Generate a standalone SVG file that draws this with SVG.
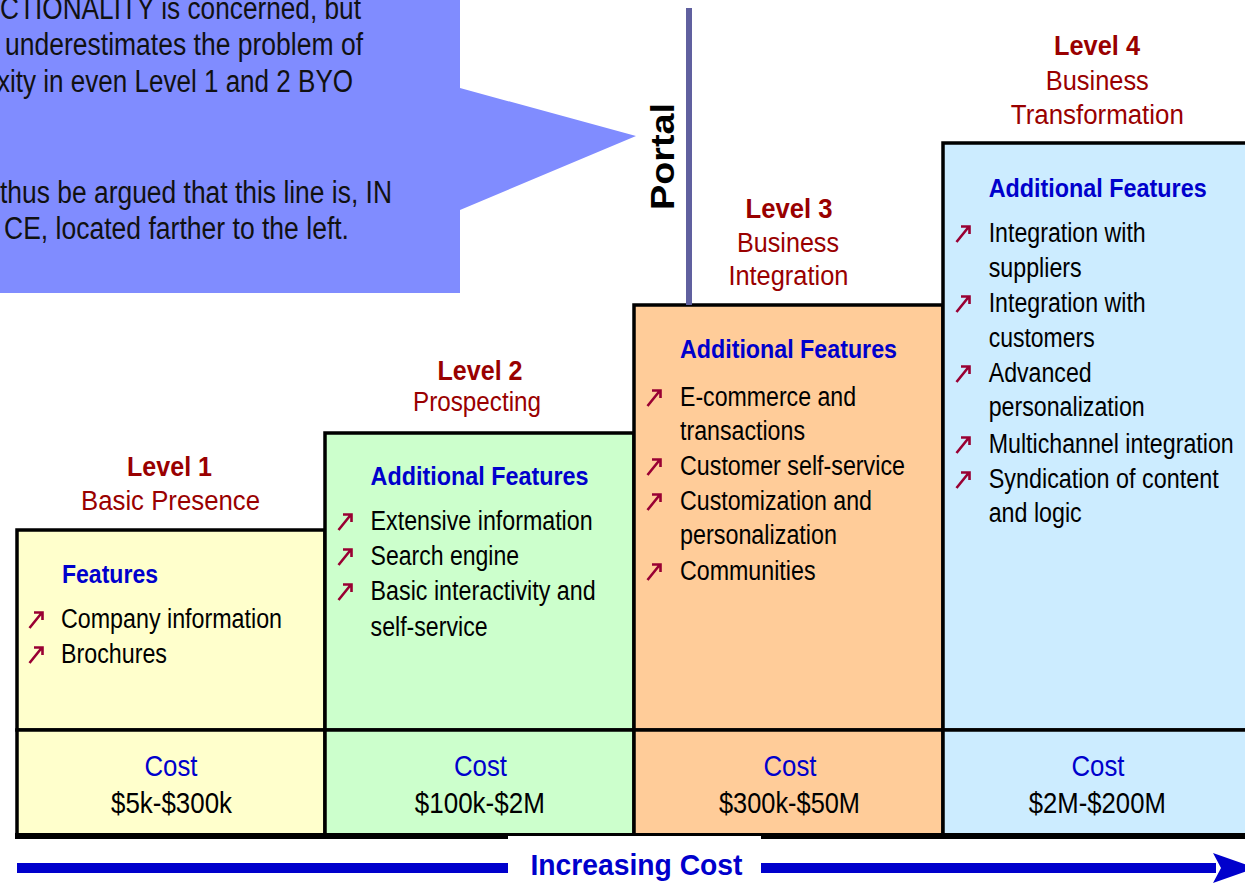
<svg xmlns="http://www.w3.org/2000/svg" xmlns:xlink="http://www.w3.org/1999/xlink" width="1245" height="884" viewBox="0 0 1245 884">
<style>
text{font-family:"Liberation Sans",Arial,sans-serif}
.call{font-size:31px;fill:#111}
.lvl{font-size:28px;font-weight:bold;fill:#990000;text-anchor:middle}
.sub{font-size:27px;fill:#990000;text-anchor:middle}
.hd{font-size:26px;font-weight:bold;fill:#0000cc}
.it{font-size:27px;fill:#000}
.cost{font-size:30px;fill:#0000cc;text-anchor:middle}
.val{font-size:30px;fill:#000;text-anchor:middle}
.box{stroke:#000;stroke-width:3.5}
.y{fill:#ffffcc}.g{fill:#ccffcc}.o{fill:#ffcc99}.b{fill:#ccecff}
</style>
<defs>
<path id="bul" d="M0.5,0 L13,-15.5 M5,-15.5 H13.5 V-8" fill="none" stroke="#990033" stroke-width="2.6"/>
</defs>
<rect width="1245" height="884" fill="#fff"/>

<g id="callout">
<polygon points="0,0 460,0 460,88 636,136 460,210 460,293 0,293" fill="#808cff"/>
<text class="call" x="0" y="19" textLength="361" lengthAdjust="spacingAndGlyphs">CTIONALITY is concerned, but</text>
<text class="call" x="5" y="55" textLength="358" lengthAdjust="spacingAndGlyphs">underestimates the problem of</text>
<text class="call" x="-3" y="92" textLength="356" lengthAdjust="spacingAndGlyphs">xity in even Level 1 and 2 BYO</text>
<text class="call" x="0" y="203" textLength="392" lengthAdjust="spacingAndGlyphs">thus be argued that this line is, IN</text>
<text class="call" x="4" y="239" textLength="345" lengthAdjust="spacingAndGlyphs">CE, located farther to the left.</text>
</g>

<g id="level1">
<text class="lvl" x="169.5" y="476" textLength="85" lengthAdjust="spacingAndGlyphs">Level 1</text>
<text class="sub" x="170.5" y="510" textLength="179" lengthAdjust="spacingAndGlyphs">Basic Presence</text>
<rect class="box y" x="17" y="530" width="308" height="200"/>
<rect class="box y" x="17" y="730" width="308" height="106"/>
<text class="hd" x="62" y="583" textLength="96" lengthAdjust="spacingAndGlyphs">Features</text>
<use xlink:href="#bul" x="29" y="628"/>
<text class="it" x="61" y="628" textLength="221" lengthAdjust="spacingAndGlyphs">Company information</text>
<use xlink:href="#bul" x="29" y="663"/>
<text class="it" x="61" y="663" textLength="106" lengthAdjust="spacingAndGlyphs">Brochures</text>
<text class="cost" x="171" y="776" textLength="53" lengthAdjust="spacingAndGlyphs">Cost</text>
<text class="val" x="171.5" y="813" textLength="121" lengthAdjust="spacingAndGlyphs">$5k-$300k</text>
</g>

<g id="level2">
<text class="lvl" x="480" y="379.5" textLength="85" lengthAdjust="spacingAndGlyphs">Level 2</text>
<text class="sub" x="477" y="411" textLength="128" lengthAdjust="spacingAndGlyphs">Prospecting</text>
<rect class="box g" x="325" y="433" width="309" height="297"/>
<rect class="box g" x="325" y="730" width="309" height="106"/>
<text class="hd" x="370.6" y="485" textLength="218" lengthAdjust="spacingAndGlyphs">Additional Features</text>
<use xlink:href="#bul" x="338" y="530"/>
<text class="it" x="370.6" y="530" textLength="222" lengthAdjust="spacingAndGlyphs">Extensive information</text>
<use xlink:href="#bul" x="338" y="565"/>
<text class="it" x="370.6" y="565" textLength="148.5" lengthAdjust="spacingAndGlyphs">Search engine</text>
<use xlink:href="#bul" x="338" y="600"/>
<text class="it" x="370.6" y="600" textLength="225" lengthAdjust="spacingAndGlyphs">Basic interactivity and</text>
<text class="it" x="370.6" y="636" textLength="117" lengthAdjust="spacingAndGlyphs">self-service</text>
<text class="cost" x="480.5" y="776" textLength="53" lengthAdjust="spacingAndGlyphs">Cost</text>
<text class="val" x="479.8" y="813" textLength="130" lengthAdjust="spacingAndGlyphs">$100k-$2M</text>
</g>

<g id="level3">
<text class="lvl" x="789" y="218" textLength="87" lengthAdjust="spacingAndGlyphs">Level 3</text>
<text class="sub" x="788" y="252" textLength="102" lengthAdjust="spacingAndGlyphs">Business</text>
<text class="sub" x="788.4" y="285" textLength="120" lengthAdjust="spacingAndGlyphs">Integration</text>
<rect class="box o" x="634" y="305" width="309" height="425"/>
<rect class="box o" x="634" y="730" width="309" height="106"/>
<text class="hd" x="680" y="358" textLength="217" lengthAdjust="spacingAndGlyphs">Additional Features</text>
<use xlink:href="#bul" x="647" y="406"/>
<text class="it" x="680" y="406" textLength="176" lengthAdjust="spacingAndGlyphs">E-commerce and</text>
<text class="it" x="680" y="440" textLength="125" lengthAdjust="spacingAndGlyphs">transactions</text>
<use xlink:href="#bul" x="647" y="475"/>
<text class="it" x="680" y="475" textLength="225" lengthAdjust="spacingAndGlyphs">Customer self-service</text>
<use xlink:href="#bul" x="647" y="510"/>
<text class="it" x="680" y="510" textLength="192" lengthAdjust="spacingAndGlyphs">Customization and</text>
<text class="it" x="680" y="544" textLength="157" lengthAdjust="spacingAndGlyphs">personalization</text>
<use xlink:href="#bul" x="647" y="580"/>
<text class="it" x="680" y="580" textLength="135.5" lengthAdjust="spacingAndGlyphs">Communities</text>
<text class="cost" x="790" y="776" textLength="53" lengthAdjust="spacingAndGlyphs">Cost</text>
<text class="val" x="789.5" y="813" textLength="141" lengthAdjust="spacingAndGlyphs">$300k-$50M</text>
</g>

<g id="level4">
<text class="lvl" x="1097" y="55" textLength="86" lengthAdjust="spacingAndGlyphs">Level 4</text>
<text class="sub" x="1097.3" y="90" textLength="103" lengthAdjust="spacingAndGlyphs">Business</text>
<text class="sub" x="1097.3" y="124" textLength="173" lengthAdjust="spacingAndGlyphs">Transformation</text>
<rect class="box b" x="943" y="143" width="312" height="587"/>
<rect class="box b" x="943" y="730" width="312" height="106"/>
<text class="hd" x="988.7" y="196.7" textLength="218" lengthAdjust="spacingAndGlyphs">Additional Features</text>
<use xlink:href="#bul" x="956" y="242"/>
<text class="it" x="988.7" y="242" textLength="157" lengthAdjust="spacingAndGlyphs">Integration with</text>
<text class="it" x="988.7" y="277" textLength="93" lengthAdjust="spacingAndGlyphs">suppliers</text>
<use xlink:href="#bul" x="956" y="312"/>
<text class="it" x="988.7" y="312" textLength="157" lengthAdjust="spacingAndGlyphs">Integration with</text>
<text class="it" x="988.7" y="347" textLength="106" lengthAdjust="spacingAndGlyphs">customers</text>
<use xlink:href="#bul" x="956" y="382"/>
<text class="it" x="988.7" y="382" textLength="103" lengthAdjust="spacingAndGlyphs">Advanced</text>
<text class="it" x="988.7" y="416" textLength="156" lengthAdjust="spacingAndGlyphs">personalization</text>
<use xlink:href="#bul" x="956" y="453"/>
<text class="it" x="988.7" y="453" textLength="245" lengthAdjust="spacingAndGlyphs">Multichannel integration</text>
<use xlink:href="#bul" x="956" y="488"/>
<text class="it" x="988.7" y="488" textLength="230" lengthAdjust="spacingAndGlyphs">Syndication of content</text>
<text class="it" x="988.7" y="522" textLength="93" lengthAdjust="spacingAndGlyphs">and logic</text>
<text class="cost" x="1098" y="776" textLength="53" lengthAdjust="spacingAndGlyphs">Cost</text>
<text class="val" x="1097.3" y="813" textLength="137" lengthAdjust="spacingAndGlyphs">$2M-$200M</text>
</g>

<g id="portal">
<line x1="689" y1="8" x2="689" y2="305" stroke="#60609f" stroke-width="6"/>
<text transform="translate(674,156.5) rotate(-90)" font-size="33" font-weight="bold" fill="#000" text-anchor="middle" textLength="107" lengthAdjust="spacingAndGlyphs">Portal</text>
</g>

<g id="connectors">
<rect x="15" y="833" width="1240" height="6" fill="#000"/>
<rect x="508" y="836" width="253" height="48" fill="#fff"/>
<rect x="17" y="863" width="491" height="10" fill="#0000cc"/>
<rect x="761" y="863" width="455" height="10" fill="#0000cc"/>
<polygon points="1213,853 1256,868 1213,883 1221,868" fill="#0000cc"/>
</g>

<g id="axis-label">
<text x="636.5" y="875" font-size="30" font-weight="bold" fill="#0000cc" text-anchor="middle" textLength="212" lengthAdjust="spacingAndGlyphs">Increasing Cost</text>
</g>
</svg>
